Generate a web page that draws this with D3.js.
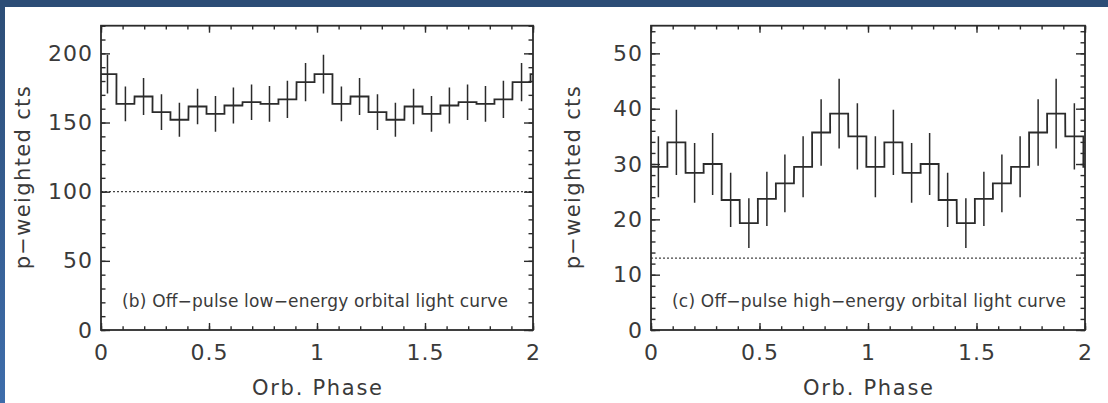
<!DOCTYPE html>
<html><head><meta charset="utf-8">
<script src="https://cdn.jsdelivr.net/npm/d3@7"></script>
<style>body{margin:0;background:#fff;overflow:hidden} svg{display:block}</style>
</head><body>
<svg id="c" width="1108" height="403"></svg>
<script>
// ---- data ----
const phaseTicks = [0, 0.5, 1, 1.5, 2];
const phaseMinorTicks = d3.range(0, 2.0001, 0.1);
const lowYTicks = [0, 50, 100, 150, 200];
const highYTicks = [0, 10, 20, 30, 40, 50];
// one orbital cycle (12 bins), plotted twice
const lowPhase  = [0.030, 0.113, 0.197, 0.280, 0.363, 0.447, 0.530, 0.613, 0.697, 0.780, 0.863, 0.947];
const lowCounts = [185, 163.5, 168.8, 157.5, 152, 161.6, 156.3, 162.3, 164.7, 163.5, 166.7, 179.2];
const lowErr    = [14, 12.6, 13.4, 12.9, 12.3, 12.8, 12.9, 13.0, 12.8, 12.9, 13.5, 13.9];
const highPhase  = [0.034, 0.117, 0.201, 0.284, 0.367, 0.451, 0.534, 0.617, 0.701, 0.784, 0.867, 0.951];
const highCounts = [29.5, 33.9, 28.4, 30.0, 23.5, 19.3, 23.7, 26.5, 29.5, 35.7, 39.1, 35.0];
const highErr    = [5.5, 5.9, 5.4, 5.6, 4.9, 4.5, 4.9, 5.2, 5.5, 6.0, 6.3, 6.0];
const lowBackground = 100;
const highBackground = 13;
const binWidth = 1 / 12;
const xTitle = "Orb. Phase";
const yTitle = "p\u2212weighted cts";
const lowCaption = "(b) Off\u2212pulse low\u2212energy orbital light curve";
const highCaption = "(c) Off\u2212pulse high\u2212energy orbital light curve";

// ---- drawing ----
const svg = d3.select("#c");
const ink = "#2b2b2b";
const textInk = "#3a3a3a";
const font = "DejaVu Sans, sans-serif";

// slide border
const defs = svg.append("defs");
const grad = defs.append("linearGradient").attr("id", "lg").attr("x1", 0).attr("y1", 0).attr("x2", 0).attr("y2", 1);
grad.append("stop").attr("offset", "0%").attr("stop-color", "#2c4d76");
grad.append("stop").attr("offset", "100%").attr("stop-color", "#3e6dab");
svg.append("rect").attr("x", 0).attr("y", 0).attr("width", 1108).attr("height", 403).attr("fill", "#fff");
svg.append("rect").attr("x", 0).attr("y", 0).attr("width", 5).attr("height", 403).attr("fill", "url(#lg)");
svg.append("rect").attr("x", 0).attr("y", 0).attr("width", 1108).attr("height", 7).attr("fill", "#2c4d76");

function panel(opt) {
  const { id, left, right, top, bottom, ymax, yTicks, yMinorStep, phase, counts, err, bg, caption, captionLen } = opt;
  const x = d3.scaleLinear().domain([0, 2]).range([left, right]);
  const y = d3.scaleLinear().domain([0, ymax]).range([bottom, top]);
  const g = svg.append("g");

  defs.append("clipPath").attr("id", "clip" + id)
    .append("rect").attr("x", left).attr("y", top).attr("width", right - left).attr("height", bottom - top);

  // bins over two cycles, plus one wrapped bin on each side (clipped)
  const bins = [];
  for (let c = -1; c <= 2; c++) {
    phase.forEach((p, i) => bins.push({ p: p + c, v: counts[i], e: err[i] }));
  }
  const pts = [];
  bins.forEach(b => { pts.push([b.p - binWidth / 2, b.v]); pts.push([b.p + binWidth / 2, b.v]); });

  const plot = g.append("g").attr("clip-path", `url(#clip${id})`);
  // background level
  plot.append("line")
    .attr("x1", x(0)).attr("x2", x(2)).attr("y1", y(bg)).attr("y2", y(bg))
    .attr("stroke", "#444").attr("stroke-width", 1.3).attr("stroke-dasharray", "2,2");
  plot.append("path")
    .attr("d", d3.line().x(d => x(d[0])).y(d => y(d[1]))(pts))
    .attr("fill", "none").attr("stroke", ink).attr("stroke-width", 1.8);
  plot.selectAll("line.err").data(bins).join("line").attr("class", "err")
    .attr("x1", d => x(d.p)).attr("x2", d => x(d.p))
    .attr("y1", d => y(d.v - d.e)).attr("y2", d => y(d.v + d.e))
    .attr("stroke", ink).attr("stroke-width", 1.5);

  const yMinor = d3.range(0, ymax + 1e-9, yMinorStep);
  function styleAxis(sel) {
    sel.select(".domain").remove();
    sel.selectAll(".tick line").attr("stroke", ink).attr("stroke-width", 1.4);
    sel.selectAll("text").attr("fill", textInk).style("font-family", font)
      .style("font-size", "22px").style("letter-spacing", "1px");
  }
  // left
  g.append("g").attr("transform", `translate(${left},0)`)
    .call(d3.axisLeft(y).tickValues(yMinor).tickSize(-4.5).tickFormat("")).call(styleAxis);
  g.append("g").attr("transform", `translate(${left},0)`)
    .call(d3.axisLeft(y).tickValues(yTicks).tickSize(-9).tickPadding(8).tickFormat(d3.format("d"))).call(styleAxis);
  // right
  g.append("g").attr("transform", `translate(${right},0)`)
    .call(d3.axisRight(y).tickValues(yMinor).tickSize(-4.5).tickFormat("")).call(styleAxis);
  g.append("g").attr("transform", `translate(${right},0)`)
    .call(d3.axisRight(y).tickValues(yTicks).tickSize(-9).tickFormat("")).call(styleAxis);
  // bottom
  g.append("g").attr("transform", `translate(0,${bottom})`)
    .call(d3.axisBottom(x).tickValues(phaseMinorTicks).tickSize(-3.8).tickFormat("")).call(styleAxis);
  const bx = g.append("g").attr("transform", `translate(0,${bottom})`)
    .call(d3.axisBottom(x).tickValues(phaseTicks).tickSize(-7).tickPadding(14).tickFormat(d => String(d))).call(styleAxis);
  bx.selectAll("text").attr("dy", "0.71em");
  // top
  g.append("g").attr("transform", `translate(0,${top})`)
    .call(d3.axisTop(x).tickValues(phaseMinorTicks).tickSize(-3.8).tickFormat("")).call(styleAxis);
  g.append("g").attr("transform", `translate(0,${top})`)
    .call(d3.axisTop(x).tickValues(phaseTicks).tickSize(-7).tickFormat("")).call(styleAxis);

  // frame
  g.append("rect").attr("x", left).attr("y", top).attr("width", right - left).attr("height", bottom - top)
    .attr("fill", "none").attr("stroke", ink).attr("stroke-width", 1.8);

  // titles
  g.append("text").attr("x", (left + right) / 2).attr("y", 395)
    .attr("text-anchor", "middle").attr("fill", textInk)
    .style("font-family", font).style("font-size", "21px")
    .attr("textLength", 130).attr("lengthAdjust", "spacing").text(xTitle);
  g.append("text")
    .attr("transform", `translate(${left - 71},${(top + bottom) / 2}) rotate(-90)`)
    .attr("text-anchor", "middle").attr("fill", textInk)
    .style("font-family", font).style("font-size", "21px")
    .attr("textLength", 183).attr("lengthAdjust", "spacing").text(yTitle);
  g.append("text").attr("x", left + 21).attr("y", 306.5).attr("fill", textInk)
    .style("font-family", font).style("font-size", "17px")
    .attr("textLength", captionLen).attr("lengthAdjust", "spacing").text(caption);
}

panel({ id: "a", left: 101, right: 533, top: 25.7, bottom: 330, ymax: 220, yTicks: lowYTicks, yMinorStep: 10,
  phase: lowPhase, counts: lowCounts, err: lowErr, bg: lowBackground, caption: lowCaption, captionLen: 386 });
panel({ id: "b", left: 651, right: 1085, top: 25.7, bottom: 330, ymax: 55, yTicks: highYTicks, yMinorStep: 2,
  phase: highPhase, counts: highCounts, err: highErr, bg: highBackground, caption: highCaption, captionLen: 394 });
</script>
</body></html>
